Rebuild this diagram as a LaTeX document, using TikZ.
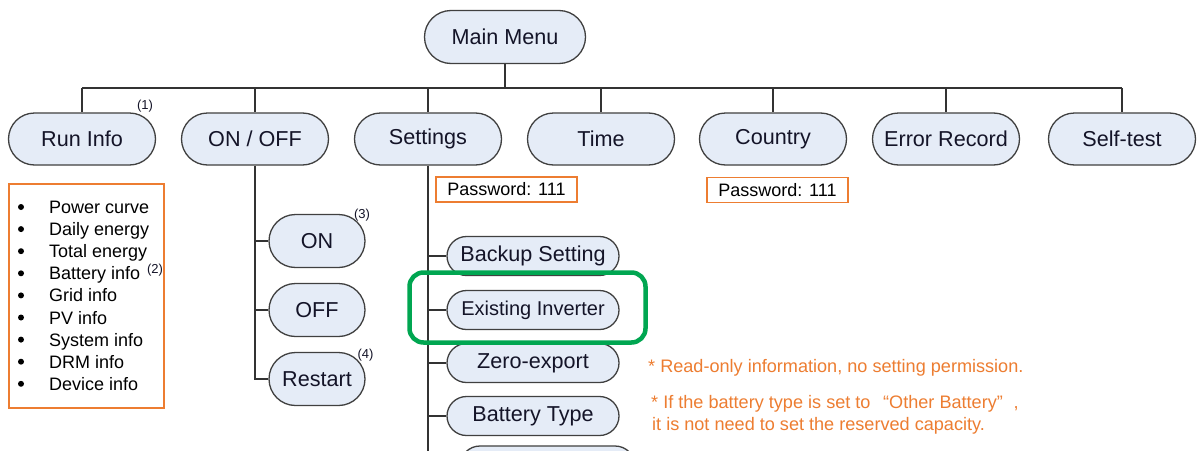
\documentclass[tikz,border=0pt]{standalone}
\usepackage{fontspec}
\setmainfont{Liberation Sans}
\usetikzlibrary{shapes.misc}
\definecolor{nodefill}{HTML}{E5ECF7}
\definecolor{nodeline}{HTML}{404040}
\definecolor{linkcol}{HTML}{333333}
\definecolor{orng}{HTML}{ED7D31}
\definecolor{grn}{HTML}{00A651}
\definecolor{txt}{HTML}{141428}
\begin{document}
\begin{tikzpicture}[x=1pt,y=-1pt,
 menu/.style={rounded rectangle, draw=nodeline, fill=nodefill, line width=1.3pt, inner sep=0pt, text=txt, font=\fontsize{21.6}{24}\selectfont},
 topnode/.style={menu, minimum width=147pt, minimum height=52pt},
 subnode/.style={menu, minimum width=96pt, minimum height=53pt},
 setnode/.style={menu, minimum width=172pt, minimum height=39pt},
 link/.style={draw=linkcol, line width=1.5pt},
 pwbox/.style={draw=orng, line width=1.3pt, inner sep=0pt, minimum width=141pt, minimum height=25pt, font=\fontsize{18}{20}\selectfont, text=black},
 supnote/.style={font=\fontsize{13}{15}\selectfont, inner sep=0pt, text=txt},
 listitem/.style={anchor=base west, inner sep=0pt, font=\fontsize{18}{22}\selectfont, text=black},
 bulletdot/.style={circle, fill=black, inner sep=0pt, minimum size=6pt},
 note/.style={text=orng, inner sep=0pt, font=\fontsize{18.1}{22}\selectfont, anchor=base west},
 greenbox/.style={draw=grn, line width=4.5pt, rounded corners=14pt, minimum width=236pt, minimum height=70pt, inner sep=0pt}
]
\useasboundingbox[fill=white] (0,0) rectangle (1197,450);

% main menu
\node[menu, minimum width=161pt, minimum height=53pt] (main) at (505,37) {Main Menu};

% top row
\node[topnode] (runinfo)  at (82,139)   {Run Info};
\node[topnode] (onoff)    at (255,139)  {ON / OFF};
\node[topnode] (settings) at (428,139)  {Settings};
\node[topnode] (time)     at (601,139)  {Time};
\node[topnode] (country)  at (773,139)  {Country};
\node[topnode] (error)    at (946,139)  {Error Record};
\node[topnode] (selftest) at (1122,139) {Self-test};

\coordinate (bus) at (505,88);
\draw[link] (main.south) -- (bus);
\draw[link] (runinfo.north |- bus) -- (selftest.north |- bus);
\foreach \n in {runinfo,onoff,settings,time,country,error,selftest}
  \draw[link] (\n.north |- bus) -- (\n.north);

\node[supnote] (s1) at (145,106) {(1)};

% run info list
\node[draw=orng, line width=1.3pt, minimum width=155pt, minimum height=224pt, inner sep=0pt] (runlist) at (86.5,296) {};
\foreach \t [count=\i] in {Power curve,Daily energy,Total energy,Battery info,Grid info,PV info,System info,DRM info,Device info}{
  \node[bulletdot] (b\i) at (21,{207+22.1*(\i-1)}) {};
  \node[listitem] (li\i) at (49,{207+22.1*(\i-1)+6.5}) {\t};
}
\node[supnote] (s2) at (155,270) {(2)};

% on/off children
\node[subnode] (on)      at (317,241) {ON};
\node[subnode] (off)     at (317,310) {OFF};
\node[subnode] (restart) at (317,379) {Restart};
\draw[link] (onoff.south) |- (restart.west);
\draw[link] (onoff.south |- on.west) -- (on.west);
\draw[link] (onoff.south |- off.west) -- (off.west);
\node[supnote] (s3) at (362,215) {(3)};
\node[supnote] (s4) at (365.5,355) {(4)};

% passwords
\node[pwbox] (pw1) at (506.5,189.5) {Password: 111};
\node[pwbox] (pw2) at (777.5,190) {Password: 111};

% settings children
\node[setnode] (backup)   at (533,256) {Backup Setting};
\node[setnode, font=\fontsize{20}{24}\selectfont] (existing) at (533,310) {Existing Inverter};
\node[setnode] (zero)     at (533,363) {Zero-export};
\node[setnode] (battery)  at (533,416) {Battery Type};
\node[setnode, minimum width=175pt, minimum height=40pt] (nextset) at (547.5,466) {};
\draw[link] (settings.south) -- (settings.south |- nextset.west) -- (nextset.west);
\foreach \n in {backup,existing,zero,battery}
  \draw[link] (settings.south |- \n.west) -- (\n.west);

% highlight
\node[greenbox] (hl) at (527.5,307.5) {};

% notes
\node[note] (note1) at (648,372) {* Read-only information, no setting permission.};
\node[note] (note2) at (651,408) {* If the battery type is set to\hspace{0.7em}“Other Battery”\hspace{0.6em},};
\node[note] (note3) at (652,430) {it is not need to set the reserved capacity.};
\end{tikzpicture}
\end{document}
